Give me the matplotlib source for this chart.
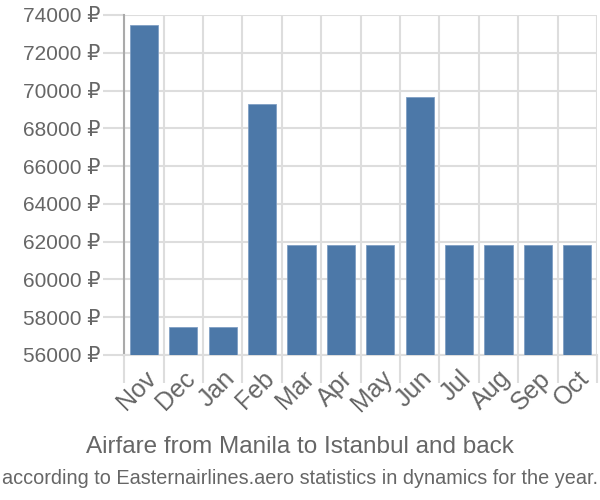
import matplotlib
matplotlib.use('Agg')
import matplotlib.pyplot as plt
from matplotlib import font_manager
import numpy as np

plt.rcParams['font.family'] = ['Liberation Sans', 'DejaVu Sans']

months = ['Nov', 'Dec', 'Jan', 'Feb', 'Mar', 'Apr', 'May', 'Jun', 'Jul', 'Aug', 'Sep', 'Oct']
prices = [73450, 57480, 57480, 69280, 61820, 61820, 61820, 69650, 61820, 61820, 61820, 61820]
yticks = [56000, 58000, 60000, 62000, 64000, 66000, 68000, 70000, 72000, 74000]

text_col = '#666666'
grid_col = '#dddddd'

fig = plt.figure(figsize=(6, 5), dpi=100)
ax = fig.add_axes([0.207, 0.29, 0.788, 0.68])

x = np.arange(len(months))
ax.bar(x, prices, width=0.72, color='#4c78a8', edgecolor='#7f9fc4', linewidth=0.6, zorder=3)

ax.set_xlim(-0.5, len(months) - 0.5)
ax.set_ylim(56000, 74000)
ax.set_yticks(yticks)
ax.set_yticklabels([f'{v} ₽' for v in yticks], fontsize=15, color=text_col)

# labels at bar centers, grid and ticks on the category boundaries
ax.set_xticks(x)
ax.set_xticklabels(months, rotation=45, ha='right', rotation_mode='anchor',
                   fontsize=18, color=text_col)
ax.tick_params(axis='x', length=0, pad=8)
ax.set_xticks(np.arange(-0.5, len(months)), minor=True)
ax.tick_params(axis='x', which='minor', length=20, color=grid_col, width=1.5)
ax.tick_params(axis='y', length=15, color=grid_col, width=1.5, pad=2)

ax.grid(True, axis='y', color=grid_col, linewidth=1.5, zorder=0)
ax.grid(True, axis='x', which='minor', color=grid_col, linewidth=1.5, zorder=0)

for s in ['top', 'right']:
    ax.spines[s].set_visible(False)
ax.spines['left'].set_color('#aaaaaa')
ax.spines['left'].set_linewidth(1.5)
ax.spines['bottom'].set_color(grid_col)
ax.spines['bottom'].set_linewidth(1.5)

fig.text(0.5, 0.106, 'Airfare from Manila to Istanbul and back', ha='center', va='center',
         fontsize=17.5, color=text_col)

# subtitle is squeezed in the reference; use a narrow face if there is one
names = {f.name for f in font_manager.fontManager.ttflist}
if 'Liberation Sans Narrow' in names:
    sub_font, sub_size = ['Liberation Sans Narrow', 'DejaVu Sans'], 17.5
else:
    sub_font, sub_size = ['Liberation Sans', 'DejaVu Sans'], 14.3
fig.text(0.5, 0.044, 'according to Easternairlines.aero statistics in dynamics for the year.',
         ha='center', va='center', fontsize=sub_size, family=sub_font, color=text_col)

fig.savefig('out.png', dpi=100)
